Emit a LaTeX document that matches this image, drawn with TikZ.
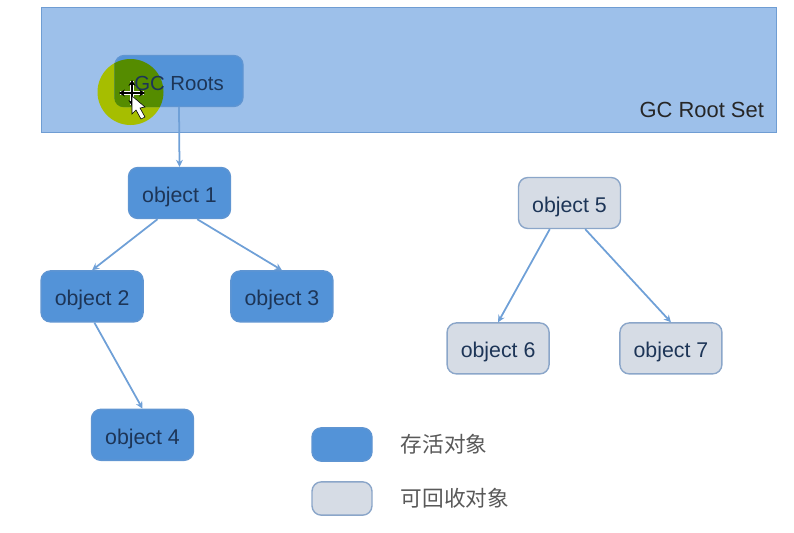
\documentclass[tikz,border=0pt]{standalone}
\usepackage{fontspec}
\setmainfont{Liberation Sans}
\newfontfamily\cjk{Noto Sans CJK SC}
\usetikzlibrary{positioning, arrows.meta}
\definecolor{gcset}{HTML}{9DC0EA}
\definecolor{gcsetline}{HTML}{6F9DD3}
\definecolor{gcblue}{HTML}{5393D8}
\definecolor{gcline}{HTML}{5F95D2}
\definecolor{gcgray}{HTML}{D6DCE5}
\definecolor{gcgrayline}{HTML}{8BA6C9}
\definecolor{gctext}{HTML}{1D3557}
\definecolor{gclime}{HTML}{A6BE00}
\definecolor{gcgreen}{HTML}{558C00}

\begin{document}
\begin{tikzpicture}[x=0.03cm, y=-0.03cm,
          live/.style={draw=gcline, fill=gcblue, rounded corners=8pt, text=gctext, font=\fontsize{18.2}{20}\selectfont, text height=16pt, text depth=0pt, line width=1.2pt, minimum width=3.06cm, minimum height=1.53cm, align=center},
          dead/.style={live, draw=gcgrayline, fill=gcgray},
          link/.style={-{Stealth[length=6pt,width=6pt]}, line width=1.5pt, color=gcline!90!white}]
        \useasboundingbox (0,0) rectangle (794,532);
        \node[draw=gcsetline, fill=gcset, line width=1.2pt, minimum width=22.05cm, minimum height=3.75cm] (set) at (409,70) {};
        \node[anchor=south east, text=black!85, font=\fontsize{18.7}{20}\selectfont] (setlabel) at (768,122) {GC Root Set};
        \fill[gclime] (130.5,92) circle (33);
        \node[live, minimum width=3.84cm] (root) at (179,81) {};
        \begin{scope}
          \clip[rounded corners=8pt] (root.south west) rectangle (root.north east);
          \fill[gcgreen] (130.5,92) circle (33);
        \end{scope}
        \node[text=gctext, font=\fontsize{17.4}{20}\selectfont, text height=16pt, text depth=0pt] (roottext) at (root.center) {GC Roots};
        % cursor
        \draw[white, line width=3pt] (120,93) -- (144,93) (132,81) -- (132,105);
        \draw[black, line width=1pt, {Stealth[length=5pt,width=6pt]}-{Stealth[length=5pt,width=6pt]}] (119,93) -- (145,93);
        \draw[black, line width=1pt, {Stealth[length=5pt,width=6pt]}-{Stealth[length=5pt,width=6pt]}] (132,80) -- (132,106);
        \draw[black, fill=white, line width=0.5pt] (132,96) -- (132,114) -- (136,110) -- (141,119) -- (145,117) -- (140,108) -- (145,107) -- cycle;
        \node[live] (o1) at (179.5,193) {object 1};
        \node[live, below left=1.53cm and -0.48cm of o1] (o2) {object 2};
        \node[live, below right=1.53cm and -0.03cm of o1] (o3) {object 3};
        \node[live, below right=2.58cm and -1.59cm of o2] (o4) {object 4};
        \node[dead] (o5) at (569.5,203) {object 5};
        \node[dead, below left=2.79cm and -0.96cm of o5] (o6) {object 6};
        \node[dead, below right=2.79cm and -0.06cm of o5] (o7) {object 7};
        \node[live, minimum width=1.8cm, minimum height=1cm] (keylive) at (342,444.5) {};
        \node[dead, minimum width=1.8cm, minimum height=1cm] (keydead) at (342,498.5) {};
        \node[right=0.72cm of keylive, text=black!65, font=\cjk\fontsize{18.5}{20}\selectfont] (livetext) {存活对象};
        \node[right=0.72cm of keydead, text=black!65, font=\cjk\fontsize{18.5}{20}\selectfont] (deadtext) {可回收对象};
        \draw[link] (root.south) -- (o1.north);
        \draw[link] (o1.-130) -- (o2.north);
        \draw[link] (o1.-56) -- (o3.north);
        \draw[link] (o2.-85) -- (o4.north);
        \draw[link] (o5.-127) -- (o6.north);
        \draw[link] (o5.-59) -- (o7.north);
      \end{tikzpicture}
\end{document}
